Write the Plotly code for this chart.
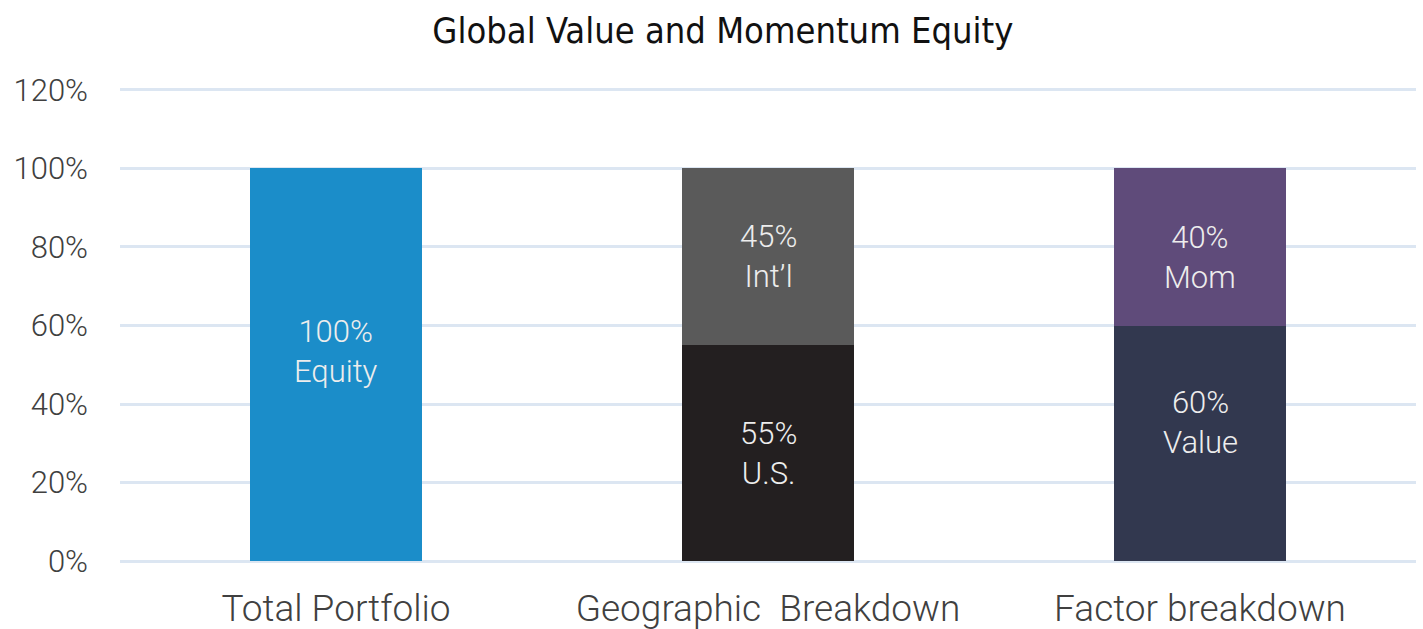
import plotly.graph_objects as go

categories = ["Total Portfolio", "Geographic  Breakdown", "Factor breakdown"]

# bottom segments
bottom_values = [100, 55, 60]
bottom_labels = ["100%<br>Equity", "55%<br>U.S.", "60%<br>Value"]
bottom_colors = ["#1B8DC9", "#231F20", "#32384F"]

# top segments (Total Portfolio has none)
top_values = [0, 45, 40]
top_labels = ["", "45%<br>Int’l", "40%<br>Mom"]
top_colors = ["#5A5A5A", "#5A5A5A", "#5F4B7A"]

y_ticks = [0, 20, 40, 60, 80, 100, 120]
y_tick_labels = ["0%", "20%", "40%", "60%", "80%", "100%", "120%"]

# where inside each segment the label sits (fraction of the segment height)
bottom_label_frac = [0.535, 0.5, 0.59]
top_label_frac = [0.5, 0.5, 0.43]

fig = go.Figure()
fig.add_trace(go.Bar(
    x=categories, y=bottom_values,
    marker=dict(color=bottom_colors, line=dict(width=0)),
    width=0.4, showlegend=False, hoverinfo="skip",
))
fig.add_trace(go.Bar(
    x=categories, y=top_values,
    marker=dict(color=top_colors, line=dict(width=0)),
    width=0.4, showlegend=False, hoverinfo="skip",
))

label_font = dict(family="Roboto", size=31, color="#EDEDED", weight=300)
for cat, v, lab, f in zip(categories, bottom_values, bottom_labels, bottom_label_frac):
    fig.add_annotation(x=cat, y=v * f, text=lab, showarrow=False, font=label_font,
                       xanchor="center", yanchor="middle")
for cat, b, v, lab, f in zip(categories, bottom_values, top_values, top_labels, top_label_frac):
    if v > 0:
        fig.add_annotation(x=cat, y=b + v * f, text=lab, showarrow=False, font=label_font,
                           xanchor="center", yanchor="middle")

fig.update_layout(
    barmode="stack",
    width=1423, height=629,
    margin=dict(l=120, r=7, t=88, b=66, autoexpand=False),
    paper_bgcolor="white", plot_bgcolor="white",
    title=dict(text="Global Value and Momentum Equity", x=0.508, xanchor="center",
               y=0.952, yanchor="middle",
               font=dict(family="DejaVu Sans Condensed, Liberation Sans Narrow, Roboto",
                         size=36, color="#111111")),
    font=dict(family="Roboto", color="#404040"),
    xaxis=dict(showgrid=False, showline=False, zeroline=False,
               tickfont=dict(family="Roboto", size=37, color="#404040", weight=300),
               ticklabelstandoff=20, ticks=""),
    yaxis=dict(range=[-0.5, 120.5], tickvals=y_ticks, ticktext=y_tick_labels,
               showgrid=True, gridcolor="#DCE6F2", gridwidth=3,
               zeroline=False, showline=False,
               tickfont=dict(family="Roboto", size=31, color="#404040", weight=300),
               ticklabelstandoff=31, ticks=""),
)

fig.write_html("out.html", config={"displayModeBar": False},
               post_script="document.body.style.margin='0';")
